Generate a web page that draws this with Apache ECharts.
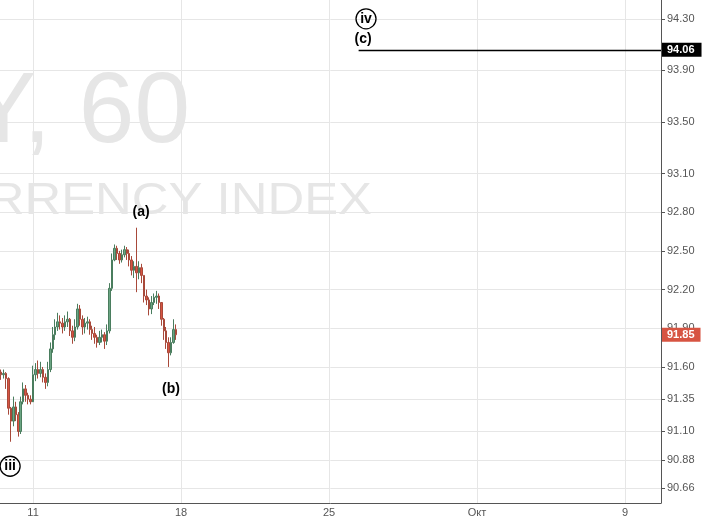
<!DOCTYPE html>
<html><head><meta charset="utf-8">
<script src="https://cdn.jsdelivr.net/npm/echarts@6/dist/echarts.min.js"></script>
<style>html,body{margin:0;padding:0;background:#fff}#c{width:704px;height:518px}</style>
</head><body><div id="c"></div>
<script>
// 2-hour trading bars, bar 0 = Sep 11 00:00 (60 bars per week)
const firstBar = -13;
const firstOpen = 91.56;
const closes = [91.54,91.55,91.51,91.28,91.18,91.29,91.23,91.10,91.33,91.43,91.38,91.35,91.33,
  91.54,91.58,91.55,91.58,91.52,91.48,91.58,91.74,91.85,91.91,91.95,91.94,91.91,91.95,91.97,
  91.88,91.83,91.91,92.05,91.97,91.91,91.94,91.95,91.89,91.86,91.83,91.79,91.83,91.85,91.80,
  91.88,92.21,92.43,92.52,92.48,92.43,92.47,92.51,92.48,92.43,92.35,92.38,92.33,92.37,92.31,
  92.15,92.12,92.05,92.10,92.14,92.15,92.10,91.97,91.88,91.79,91.71,91.79,91.89,91.85];
const highs = [91.58,91.58,91.56,91.52,91.29,91.37,91.33,91.25,91.37,91.48,91.46,91.40,91.38,
  91.61,91.63,91.65,91.64,91.60,91.55,91.64,91.79,91.91,91.97,92.02,92.00,91.98,92.00,92.03,
  91.98,91.92,91.97,92.09,92.08,92.00,91.98,91.99,91.97,91.92,91.91,91.85,91.88,91.89,91.87,
  91.93,92.25,92.48,92.55,92.54,92.50,92.51,92.54,92.53,92.51,92.46,92.42,92.68,92.42,92.40,
  92.31,92.20,92.14,92.15,92.17,92.19,92.17,92.10,91.98,91.91,91.83,91.83,91.97,91.93];
const lows = [91.50,91.51,91.43,91.23,91.02,91.14,91.18,91.06,91.08,91.31,91.33,91.31,91.31,
  91.45,91.49,91.51,91.52,91.48,91.43,91.45,91.56,91.71,91.81,91.88,91.89,91.86,91.88,91.91,
  91.84,91.78,91.80,91.89,91.92,91.85,91.86,91.89,91.85,91.81,91.78,91.75,91.77,91.79,91.74,
  91.77,91.86,92.19,92.42,92.43,92.40,92.41,92.45,92.43,92.38,92.31,92.29,92.18,92.28,92.25,
  92.10,92.08,92.00,92.01,92.08,92.09,92.05,91.92,91.81,91.74,91.60,91.69,91.78,91.81];

const xTickValues = [0, 60, 120, 180, 240];
const xTickLabels = ['11', '18', '25', 'Окт', '9'];
const yTickValues = [90.66, 90.88, 91.10, 91.35, 91.60, 91.90, 92.20, 92.50, 92.80, 93.10, 93.50, 93.90, 94.30];
const lastPrice = 91.85;
const targetPrice = 94.06;
const targetStartBar = 132;
const waveLabels = [
  {text: '(a)', bar: 43.8, price: 92.80, circled: false},
  {text: '(b)', bar: 55.9, price: 91.43, circled: false},
  {text: 'iii', bar: -9.3, price: 90.83, circled: true},
  {text: 'iv', bar: 135.0, price: 94.30, circled: true},
  {text: '(c)', bar: 133.8, price: 94.14, circled: false}
];
const xMin = -13.4, xMax = 254.6, yMin = 90.545, yMax = 94.446;

const candles = [];
let prev = firstOpen;
for (let i = 0; i < closes.length; i++) {
  candles.push([firstBar + i, prev, closes[i], lows[i], highs[i]]);
  prev = closes[i];
}
const FONT = '"Liberation Sans", Arial, sans-serif';
const chart = echarts.init(document.getElementById('c'), null, {renderer: 'canvas'});
chart.setOption({
  animation: false,
  backgroundColor: '#fff',
  graphic: [
    {type: 'text', z: 0, silent: true, x: 190, y: 164, style: {text: 'DXY, 60', x: 0, y: 0, textAlign: 'right', textVerticalAlign: 'bottom', font: '100px ' + FONT, fill: '#e6e6e6'}},
    {type: 'text', z: 0, silent: true, x: 372, y: 224, scaleX: 1.13, style: {text: 'U.S. DOLLAR CURRENCY INDEX', x: 0, y: 0, textAlign: 'right', textVerticalAlign: 'bottom', font: '45px ' + FONT, fill: '#e6e6e6'}}
  ],
  grid: {left: 0, right: 43, top: 0, bottom: 11, containLabel: false},
  xAxis: {
    type: 'value', min: xMin, max: xMax,
    axisLine: {show: true, onZero: false, lineStyle: {color: '#555', width: 1}},
    axisTick: {show: false, customValues: xTickValues},
    axisLabel: {customValues: xTickValues, formatter: v => xTickLabels[xTickValues.indexOf(v)] || '', color: '#555', fontSize: 11, margin: 4, fontFamily: FONT},
    splitLine: {show: true, lineStyle: {color: '#e6e6e6', width: 1}}
  },
  yAxis: {
    type: 'value', position: 'right', min: yMin, max: yMax,
    axisLine: {show: true, onZero: false, lineStyle: {color: '#555', width: 1}},
    axisTick: {show: true, length: 4, customValues: yTickValues, lineStyle: {color: '#555'}},
    axisLabel: {customValues: yTickValues, formatter: v => v.toFixed(2), color: '#555', fontSize: 11, margin: 6, fontFamily: FONT},
    splitLine: {show: true, lineStyle: {color: '#e6e6e6', width: 1}}
  },
  series: [{
    type: 'candlestick',
    clip: false,
    encode: {x: 0, y: [1, 2, 3, 4]},
    data: candles,
    barWidth: 2,
    itemStyle: {color: '#6ba583', color0: '#d75442', borderColor: '#4a7d5e', borderColor0: '#a8493a', borderWidth: 1},
    markLine: {
      silent: true, symbol: 'none', animation: false,
      data: [
        [{coord: [targetStartBar, targetPrice], lineStyle: {color: '#000', width: 1.3, type: 'solid'},
          label: {show: true, position: 'end', distance: 1, formatter: targetPrice.toFixed(2), backgroundColor: '#000', color: '#fff', fontWeight: 'bold', fontSize: 11, fontFamily: FONT, padding: [2, 7, 1, 5]}},
         {coord: [xMax, targetPrice]}],
        {yAxis: lastPrice, lineStyle: {color: 'rgba(0,0,0,0)', width: 0},
          label: {show: true, position: 'end', distance: 1, formatter: lastPrice.toFixed(2), backgroundColor: '#d75442', color: '#fff', fontWeight: 'bold', fontSize: 11, fontFamily: FONT, padding: [2, 6, 1, 5]}}
      ]
    },
    markPoint: {
      silent: true, symbol: 'circle', symbolSize: 0, animation: false,
      data: waveLabels.map(w => ({
        coord: [w.bar, w.price],
        label: {
          show: true, position: 'inside',
          formatter: w.circled ? '{c|' + w.text + '}' : '{t|' + w.text + '}',
          rich: {
            c: {width: 20, height: 20, lineHeight: 21, align: 'center', borderColor: '#000', borderWidth: 1.3, borderRadius: 11, fontWeight: 'bold', fontSize: 14, color: '#000', fontFamily: FONT},
            t: {fontWeight: 'bold', fontSize: 14, color: '#000', fontFamily: FONT}
          }
        }
      }))
    }
  }]
});
</script></body></html>
